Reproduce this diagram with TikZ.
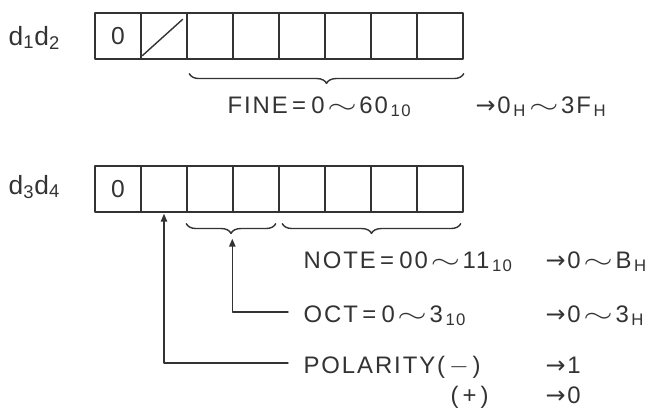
\documentclass[tikz,border=0pt]{standalone}
\usepackage{graphicx}
\usepackage{fontspec}
\setmainfont{Liberation Sans}[LetterSpace=8]
\newfontfamily\arwfont{DejaVu Sans}
\usetikzlibrary{arrows.meta,calc,decorations.pathreplacing}
\newcommand\low[1]{\hspace{1.5pt}\textsubscript{#1}}
\newcommand\arr{{\arwfont\char"2192}\hspace{1pt}}
\newcommand\tld{\hspace{1.5pt}\scalebox{1.5}[1]{$\sim$}\hspace{1.5pt}}
\newcommand\eq{\hspace{2.5pt}=\hspace{3pt}}
\tikzset{
  cell/.style={draw, minimum width=0.92cm, minimum height=0.92cm, inner sep=0pt, font=\fontsize{14}{16}\selectfont},
  reg/.style={anchor=base west, inner sep=0pt, font=\fontsize{15}{17}\selectfont},
  lbl/.style={anchor=west, inner xsep=8.5pt, inner ysep=0pt, text height=11.4pt, text depth=0pt},
  val/.style={anchor=base west, inner sep=0pt},
  brc/.style={decorate, decoration={brace, mirror, amplitude=5.5pt}},
}
\begin{document}
\begin{tikzpicture}[x=0.02cm, y=-0.02cm, line width=0.8pt, font=\fontsize{13.6}{15}\selectfont, line join=round, line cap=round, >={Triangle[length=4.5pt,width=3.6pt]}, black!80]
				\useasboundingbox (0,0) rectangle (653,410);
				% d1 d2
				\node[reg] (dA) at (8,45) {d\textsubscript{1}d\textsubscript{2}};
				\foreach \i in {1,...,8} \node[cell] (a\i) at ({95+46*(\i-0.5)},36) {};
				\node[cell, draw=none] (a0) at (a1) {0};
				\draw ($(a2.south west)+(2,-4)$) -- ($(a2.north east)+(-5,7)$);
				\draw[brc] ($(a3.south west)+(3,14)$) -- ($(a8.south east)+(0,14)$);
				\node[lbl] (fine) at (212,103) {FINE\eq 0\tld 60\low{10}};
				\node[val] (fineH) at (475,113) {\arr 0\low{H}\tld 3F\low{H}};
				% d3 d4
				\node[reg] (dB) at (8,194) {d\textsubscript{3}d\textsubscript{4}};
				\foreach \i in {1,...,8} \node[cell] (b\i) at ({95+46*(\i-0.5)},189) {};
				\node[cell, draw=none] (b0) at (b1) {0};
				\draw[brc] ($(b3.south west)+(0,11)$) -- ($(b4.south east)+(-4,11)$);
				\draw[brc] ($(b5.south west)+(4,11)$) -- ($(b8.south east)+(-3,11)$);
				\node[val] (note) at (303,268) {NOTE\eq 00\tld 11\low{10}};
				\node[val] (noteH) at (545,268) {\arr 0\tld B\low{H}};
				\node[lbl] (oct) at (288,312) {OCT\eq 0\tld 3\low{10}};
				\node[val] (octH) at (545,322) {\arr 0\tld 3\low{H}};
				\node[lbl] (pol) at (288,363) {POLARITY(\,$-$\,)};
				\node[val] (polH) at (545,373) {\arr 1};
				\node[val] (plus) at (450,403) {(\,+\,)};
				\node[val] (plusH) at (545,403) {\arr 0};
				\coordinate (octtip) at ($(b4.south west)+(0,26)$);
				\coordinate (poltip) at ($(b2.south)+(0,1)$);
				\draw[->] (oct.west) -| (octtip);
				\draw[->] (pol.west) -| (poltip);
\end{tikzpicture}
\end{document}
